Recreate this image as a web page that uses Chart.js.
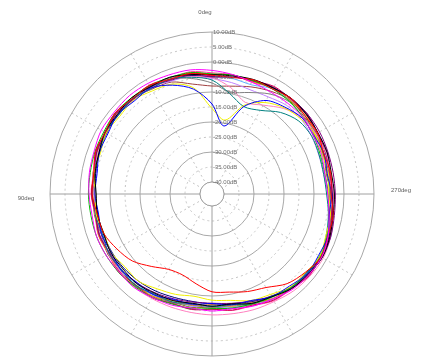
<!DOCTYPE html>
<html>
<head>
<meta charset="utf-8">
<script src="https://cdn.jsdelivr.net/npm/chart.js@4"></script>
<style>
  html, body { margin: 0; padding: 0; background: #fff; }
  canvas { display: block; }
</style>
</head>
<body>
<canvas id="polar" width="424" height="360"></canvas>
<script>
// angles of the measurement, degrees counter-clockwise from the top (0deg up, 90deg left)
const angles = [0, 10, 20, 30, 40, 50, 60, 70, 80, 90, 100, 110, 120, 130, 140, 150, 160, 170,
  180, 190, 200, 210, 220, 230, 240, 250, 260, 270, 280, 290, 300, 310, 320, 330, 340, 350];

// radial ticks (dB)
const tickValues = [-40, -35, -30, -25, -20, -15, -10, -5, 0, 5, 10];
const axisLabels = ['0deg', '90deg', '270deg'];

// gain per angle, dB, one array per trace
const s01 = [-2.8, -2.0, -1.8, -1.4, -1.2, -1.5, -1.4, -2.2, -2.5, -3.0, -3.4, -3.0, -3.2, -3.6, -3.4, -4.2, -4.6, -5.4, -5.0, -5.2, -4.2, -3.6, -2.4, -2.0, -1.8, -2.8, -4.4, -5.4, -5.8, -5.2, -5.0, -4.4, -4.6, -4.8, -4.4, -3.6];
const s02 = [-4.4, -3.2, -3.3, -2.2, -2.6, -1.9, -2.9, -2.7, -4.0, -4.0, -5.2, -5.6, -7.4, -9.3, -12.5, -15.0, -15.3, -13.6, -11.4, -10.8, -9.4, -8.0, -5.0, -3.4, -2.0, -2.9, -3.0, -4.3, -3.8, -4.4, -3.3, -3.5, -2.6, -3.6, -3.5, -4.6];
const s03 = [-4.2, -3.6, -2.6, -2.8, -2.2, -2.8, -2.8, -3.9, -4.4, -5.4, -5.2, -5.6, -5.0, -5.2, -5.0, -5.8, -6.2, -7.0, -6.6, -6.8, -5.2, -4.4, -2.8, -2.2, -1.6, -2.2, -3.0, -3.2, -3.6, -3.2, -3.2, -2.8, -2.6, -3.2, -3.4, -4.0];
const s04 = [-14.0, -8.5, -5.4, -3.2, -3.6, -2.9, -3.9, -4.0, -5.1, -5.0, -5.6, -4.8, -5.2, -4.5, -5.3, -5.2, -6.6, -6.7, -7.5, -6.5, -6.2, -4.4, -3.9, -2.6, -3.0, -2.9, -4.3, -4.2, -5.0, -4.3, -4.9, -4.7, -6.2, -8.0, -13.0, -21.0];
const s05 = [-15.5, -8.0, -5.0, -4.3, -3.2, -3.8, -3.3, -4.4, -4.1, -5.2, -4.8, -5.7, -5.2, -6.2, -6.0, -7.5, -8.4, -9.4, -8.6, -8.0, -6.2, -5.3, -3.5, -3.3, -2.5, -3.6, -3.9, -5.1, -4.6, -5.0, -4.3, -5.2, -6.5, -8.8, -12.5, -19.0];
const s06 = [-4.0, -2.9, -2.7, -2.3, -2.2, -1.9, -2.4, -2.5, -2.8, -2.8, -3.0, -3.0, -3.2, -3.4, -3.8, -4.2, -5.0, -5.2, -5.8, -5.4, -5.0, -4.2, -3.4, -2.6, -2.6, -3.0, -4.4, -5.2, -5.8, -5.6, -5.0, -4.4, -3.8, -3.6, -3.8, -3.8];
const s07 = [-6.0, -4.5, -3.2, -3.4, -2.6, -3.2, -2.9, -4.1, -4.1, -5.1, -4.6, -5.1, -4.3, -4.7, -4.3, -5.5, -5.7, -6.9, -6.5, -6.6, -5.1, -4.6, -3.0, -3.0, -2.3, -3.5, -4.6, -5.8, -6.2, -6.0, -5.6, -6.2, -8.5, -11.8, -13.0, -10.0];
const s08 = [-5.0, -3.7, -3.7, -2.7, -3.0, -2.3, -3.2, -3.1, -4.2, -3.9, -4.6, -4.0, -4.6, -4.6, -5.2, -6.0, -6.8, -7.4, -7.6, -7.0, -6.0, -4.6, -3.2, -2.2, -1.6, -1.9, -2.6, -2.9, -3.0, -2.9, -2.6, -2.5, -2.6, -3.0, -3.6, -4.4];
const s09 = [-5.2, -4.3, -3.0, -3.2, -2.3, -2.9, -2.6, -3.8, -3.8, -4.9, -4.5, -5.0, -4.1, -4.0, -3.6, -3.8, -3.9, -3.9, -3.7, -3.5, -3.0, -2.6, -1.8, -1.4, -1.2, -2.0, -2.9, -3.4, -3.8, -3.6, -4.0, -4.6, -6.8, -9.8, -11.5, -8.0];
const s10 = [-4.6, -3.3, -3.3, -2.4, -2.7, -2.1, -3.0, -2.9, -4.1, -3.9, -4.7, -4.1, -4.6, -3.8, -4.4, -4.1, -5.2, -4.9, -5.6, -4.7, -4.6, -3.1, -2.9, -1.7, -2.2, -2.1, -3.6, -3.5, -4.2, -3.3, -3.5, -2.5, -2.9, -2.6, -3.9, -3.9];
const s11 = [-4.9, -3.9, -3.3, -3.0, -2.8, -3.0, -3.4, -4.0, -4.6, -5.0, -5.3, -5.4, -5.4, -5.6, -6.0, -6.6, -7.3, -7.6, -7.4, -6.9, -5.8, -4.5, -3.2, -2.4, -2.1, -2.5, -3.3, -3.9, -4.0, -3.7, -3.3, -2.9, -2.8, -3.1, -3.8, -4.4];
const s12 = [-7.0, -4.9, -3.3, -3.5, -2.7, -3.3, -3.0, -4.1, -4.0, -5.0, -4.5, -5.0, -4.2, -4.6, -4.2, -5.3, -5.4, -6.5, -6.0, -6.3, -4.9, -4.5, -2.9, -2.8, -2.0, -3.1, -3.5, -4.8, -4.5, -4.9, -3.9, -4.2, -3.9, -5.5, -8.0, -9.5];
const s13 = [-4.3, -3.1, -3.3, -2.5, -3.0, -2.5, -3.4, -3.2, -4.2, -3.8, -4.5, -3.8, -4.2, -3.5, -4.4, -4.6, -6.2, -6.3, -7.1, -6.0, -5.5, -3.7, -3.3, -2.0, -2.5, -2.5, -4.2, -4.3, -5.1, -4.2, -4.2, -3.0, -3.3, -3.0, -4.2, -4.0];
const s14 = [-5.5, -4.1, -4.0, -3.0, -3.3, -2.7, -3.6, -3.6, -4.8, -4.7, -5.5, -4.9, -5.3, -4.6, -5.4, -5.3, -6.5, -6.1, -6.5, -5.3, -4.9, -3.3, -3.0, -1.8, -2.3, -2.8, -4.4, -5.4, -6.2, -6.1, -5.6, -5.2, -5.4, -6.6, -7.0, -6.3];
const s15 = [-4.7, -3.4, -3.5, -2.6, -2.9, -2.2, -3.1, -3.0, -4.1, -3.9, -4.7, -4.1, -4.7, -4.1, -4.9, -4.8, -6.1, -6.0, -6.7, -5.7, -5.4, -3.7, -3.2, -1.8, -2.1, -1.9, -3.3, -3.2, -3.9, -3.1, -3.3, -2.5, -3.3, -3.5, -5.3, -4.9];
const s16 = [-8.0, -6.8, -4.3, -3.7, -2.6, -3.1, -2.7, -3.8, -3.7, -4.7, -4.2, -4.7, -3.9, -4.3, -4.0, -5.3, -5.5, -6.7, -6.3, -6.5, -5.1, -4.7, -3.1, -3.0, -2.3, -3.4, -3.7, -4.9, -4.4, -4.7, -3.7, -3.9, -3.2, -4.5, -6.0, -7.5];
const s17 = [-4.1, -3.0, -3.2, -2.4, -2.9, -2.4, -3.3, -3.2, -4.3, -4.1, -4.8, -4.1, -4.5, -3.7, -4.5, -4.4, -5.7, -5.6, -6.3, -5.3, -5.1, -3.5, -3.2, -2.0, -2.5, -2.5, -4.2, -4.4, -5.3, -4.5, -4.6, -3.4, -3.6, -3.1, -4.1, -3.7];
const s18 = [-3.6, -2.6, -2.9, -2.1, -2.5, -1.9, -2.8, -2.7, -3.9, -3.7, -4.4, -3.7, -4.1, -3.3, -4.1, -4.0, -5.3, -5.0, -5.6, -4.6, -4.4, -2.9, -2.7, -1.6, -2.2, -2.2, -3.8, -3.9, -4.7, -3.8, -3.9, -2.9, -3.4, -3.2, -4.5, -3.7];

const allSeries = [s01, s02, s03, s04, s05, s06, s07, s08, s09, s10, s11, s12, s13, s14, s15, s16, s17, s18];
const seriesColors = ['#ff00ff', '#ff0000', '#000000', '#0000ff', '#f0f000', '#00c000', '#008080', '#800080', '#ff80c0',
  '#d00050', '#000080', '#808080', '#ff8000', '#c080ff', '#60b0ff', '#a04040', '#808000', '#ff40a0'];

// radar goes clockwise, the plot goes counter-clockwise: flip the order
const n = angles.length;
const flip = arr => arr.map((_, i) => arr[(n - i) % n]);

const datasets = allSeries.map((s, k) => ({
  label: 'trace ' + (k + 1),
  data: flip(s),
  borderColor: seriesColors[k],
  borderWidth: 1,
  pointRadius: 0,
  fill: false,
  tension: 0.3,
}));

const overlay = {
  id: 'overlay',
  beforeDatasetsDraw(chart) {
    const r = chart.scales.r;
    const ctx = chart.ctx;
    const hole = r.getDistanceFromCenterForValue(-40);
    ctx.save();
    ctx.beginPath();
    ctx.arc(r.xCenter, r.yCenter, hole, 0, Math.PI * 2);
    ctx.fillStyle = '#ffffff';
    ctx.fill();
    ctx.strokeStyle = '#a0a0a0';
    ctx.lineWidth = 1;
    ctx.stroke();
    ctx.restore();
  },
  afterDatasetsDraw(chart) {
    const r = chart.scales.r;
    const ctx = chart.ctx;
    ctx.save();
    ctx.font = '6px "Liberation Sans", Arial, sans-serif';
    ctx.fillStyle = '#707070';
    ctx.textAlign = 'left';
    ctx.textBaseline = 'middle';
    tickValues.forEach(v => {
      const d = r.getDistanceFromCenterForValue(v);
      ctx.fillText(v.toFixed(2) + 'dB', r.xCenter + 1, r.yCenter - d);
    });
    ctx.fillStyle = '#606060';
    ctx.textAlign = 'center';
    ctx.fillText(axisLabels[0], r.xCenter - 7, 12);
    ctx.fillText(axisLabels[1], 26, r.yCenter + 4);
    ctx.fillText(axisLabels[2], 401, r.yCenter - 4);
    ctx.restore();
  }
};

new Chart(document.getElementById('polar'), {
  type: 'radar',
  data: {
    labels: flip(angles).map(a => a + 'deg'),
    datasets: datasets,
  },
  options: {
    responsive: false,
    animation: false,
    layout: {
      padding: { left: 50, right: 50, top: 32, bottom: 4 },
    },
    plugins: {
      legend: { display: false },
      tooltip: { enabled: false },
    },
    scales: {
      r: {
        min: -44,
        max: 10,
        afterBuildTicks: scale => {
          scale.ticks = tickValues.map(v => ({ value: v }));
        },
        ticks: { display: false },
        pointLabels: { display: false },
        grid: {
          circular: true,
          lineWidth: 1,
          color: ctx => (ctx.tick && ctx.tick.value % 10 === 0) ? '#a8a8a8' : '#c4c4c4',
        },
        border: {
          dash: ctx => (ctx.tick && ctx.tick.value % 10 === 0) ? [] : [2, 3],
        },
        angleLines: {
          color: ctx => ctx.index % 9 === 0 ? '#a0a0a0' : (ctx.index % 3 === 0 ? '#c4c4c4' : 'rgba(0,0,0,0)'),
          lineWidth: ctx => ctx.index % 3 === 0 ? 1 : 0,
          borderDash: ctx => ctx.index % 9 === 0 ? [] : [2, 3],
        },
      },
    },
  },
  plugins: [overlay],
});
</script>
</body>
</html>
